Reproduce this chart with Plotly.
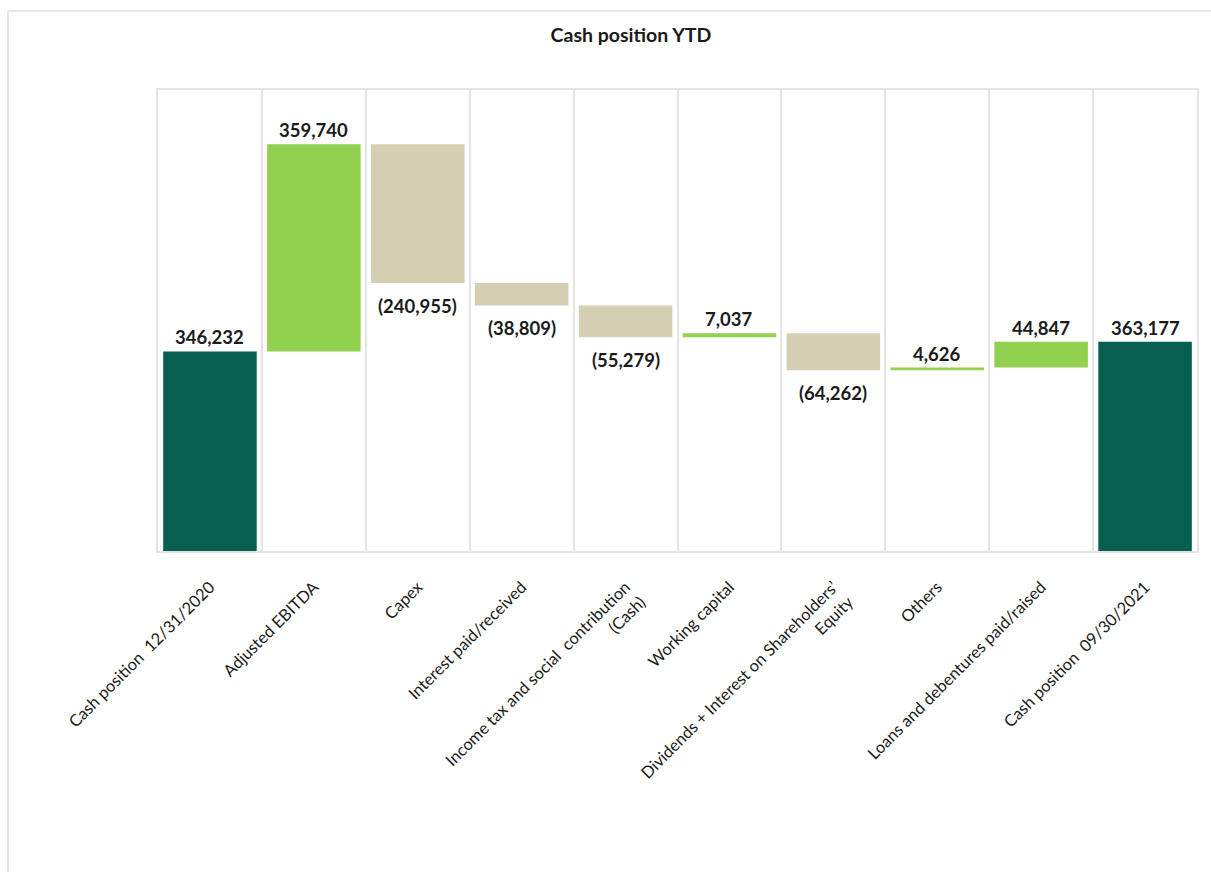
import plotly.graph_objects as go

# Cash flow bridge, YTD
categories = [
    "Cash position  12/31/2020",
    "Adjusted EBITDA",
    "Capex",
    "Interest paid/received",
    "Income tax and social  contribution<br>(Cash)",
    "Working capital",
    "Dividends + Interest on Shareholders’<br>Equity",
    "Others",
    "Loans and debentures paid/raised",
    "Cash position  09/30/2021",
]
values = [346232, 359740, -240955, -38809, -55279, 7037, -64262, 4626, 44847, 363177]
measures = ["absolute", "relative", "relative", "relative", "relative",
            "relative", "relative", "relative", "relative", "total"]

DARK_GREEN = "#07604F"
LIGHT_GREEN = "#92D050"
TAN = "#D4CEB3"
GRID = "#E4E4E4"
TEXT = "#1a1a1a"


def fmt(v):
    return f"({abs(v):,})" if v < 0 else f"{v:,}"


fig = go.Figure(go.Waterfall(
    x=categories,
    y=values,
    measure=measures,
    cliponaxis=False,
    width=0.9,
    connector=dict(visible=False),
    increasing=dict(marker=dict(color=LIGHT_GREEN)),
    decreasing=dict(marker=dict(color=TAN)),
    totals=dict(marker=dict(color=DARK_GREEN)),
    base=0,
))

# value labels: above rising / total bars, below falling bars
annotations = []
running = 0
for cat, v, m in zip(categories, values, measures):
    if m == "absolute":
        start, end = 0, v
        running = v
    elif m == "total":
        start, end = 0, running
    else:
        start, end = running, running + v
        running = end
    if v >= 0:
        annotations.append(dict(x=cat, y=max(start, end), text=f"<b>{fmt(v)}</b>",
                                yanchor="bottom", yshift=1, showarrow=False,
                                font=dict(family="Lato", size=18.5, color=TEXT)))
    else:
        annotations.append(dict(x=cat, y=min(start, end), text=f"<b>{fmt(v)}</b>",
                                yanchor="top", yshift=-10, showarrow=False,
                                font=dict(family="Lato", size=18.5, color=TEXT)))

fig.update_layout(
    width=1211,
    height=872,
    margin=dict(l=158, r=14, t=90, b=321),
    paper_bgcolor="white",
    plot_bgcolor="white",
    showlegend=False,
    annotations=annotations,
    title=dict(
        text="<b>Cash position YTD</b>",
        x=631 / 1211,
        xref="container",
        xanchor="center",
        y=1 - 35 / 872,
        yref="container",
        yanchor="middle",
        font=dict(family="Lato", size=19.5, color=TEXT),
    ),
    xaxis=dict(
        type="category",
        tickson="boundaries",
        showgrid=True,
        gridcolor=GRID,
        gridwidth=2,
        ticks="",
        tickangle=-45,
        ticklabelstandoff=18,
        tickfont=dict(family="Lato", size=16.5, color=TEXT),
        showline=True,
        linecolor=GRID,
        linewidth=2,
        mirror=True,
        zeroline=False,
    ),
    yaxis=dict(
        range=[0, 800000],
        showgrid=False,
        showticklabels=False,
        ticks="",
        zeroline=False,
        showline=True,
        linecolor=GRID,
        linewidth=2,
        mirror=True,
    ),
    shapes=[
        # outer frame (left and top edges)
        dict(type="line", xref="paper", yref="paper",
             x0=(8 - 158) / 1039, x1=(8 - 158) / 1039,
             y0=(551 - 880) / 461, y1=(551 - 11) / 461,
             line=dict(color="#E6E6E6", width=2)),
        dict(type="line", xref="paper", yref="paper",
             x0=(8 - 158) / 1039, x1=(1220 - 158) / 1039,
             y0=(551 - 11) / 461, y1=(551 - 11) / 461,
             line=dict(color="#E6E6E6", width=2)),
    ],
)

fig.write_html("out.html")
